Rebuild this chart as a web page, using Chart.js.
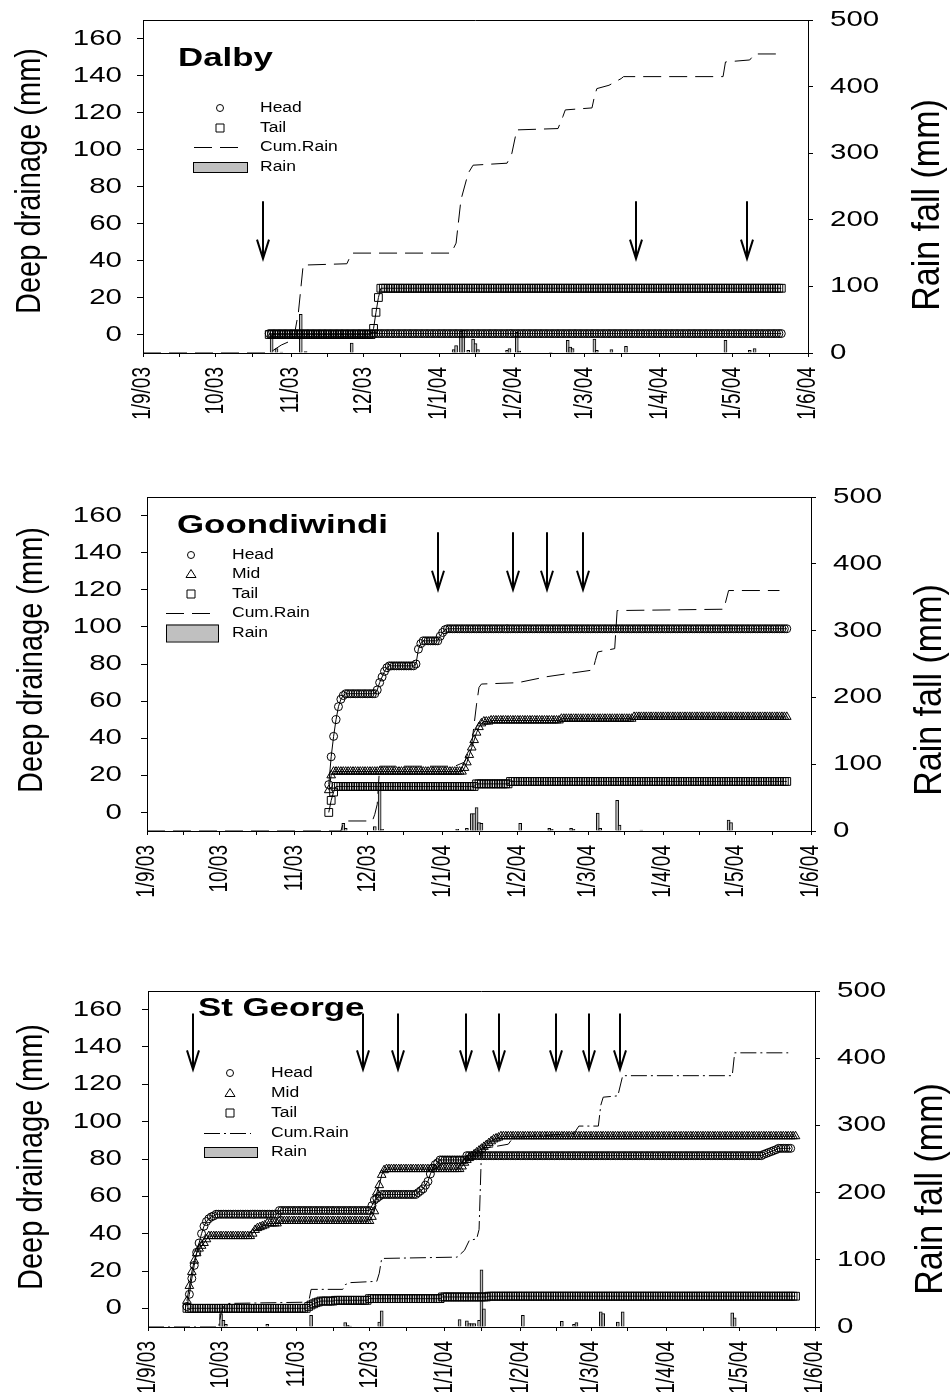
<!DOCTYPE html>
<html>
<head>
<meta charset="utf-8">
<title>Deep drainage and rain fall</title>
<script src="https://cdn.jsdelivr.net/npm/chart.js@4.4.1/dist/chart.umd.min.js"></script>
<style>
    body { margin: 0; background: #ffffff; }
    #page { position: relative; width: 951px; height: 1392px; }
    canvas { position: absolute; left: 0; }
</style>
</head>
<body>
<div id="page">
    <canvas id="dalbyChart" width="951" height="464" style="top:0px"></canvas>
    <canvas id="goondiChart" width="951" height="464" style="top:464px"></canvas>
    <canvas id="stgChart" width="951" height="464" style="top:928px"></canvas>
</div>
<script>
//Deep drainage (left axis) with daily and cumulative rain (right axis) at three sites
//x values are days counted from 1 Sep 2003

//Axis ticks shared by all three panels
var monthDays = [0, 30, 61, 91, 122, 153, 182, 213, 243, 274];
var monthLabels = ["1/9/03", "10/03", "11/03", "12/03", "1/1/04", "1/2/04", "1/3/04", "1/4/04", "1/5/04", "1/6/04"];
var midMonthDays = [15, 45, 76, 106, 137, 168, 197, 228, 258];
var drainageTicks = [0, 20, 40, 60, 80, 100, 120, 140, 160];
var rainTicks = [0, 100, 200, 300, 400, 500];

//---- Dalby (daily values from day 52) ----
var dalbyStart = 52;
var dalbyHead = [
    0.5, 0.5, 0.5, 0.5, 0.5, 0.5, 0.5, 0.5, 0.5, 0.5,
    0.5, 0.5, 0.5, 0.5, 0.5, 0.5, 0.5, 0.5, 0.5, 0.5,
    0.5, 0.5, 0.5, 0.5, 0.5, 0.5, 0.5, 0.5, 0.5, 0.5,
    0.5, 0.5, 0.5, 0.5, 0.5, 0.5, 0.5, 0.5, 0.5, 0.5,
    0.5, 0.5, 0.5, 0.5, 0.5, 0.5, 0.5, 0.5, 0.5, 0.5,
    0.5, 0.5, 0.5, 0.5, 0.5, 0.5, 0.5, 0.5, 0.5, 0.5,
    0.5, 0.5, 0.5, 0.5, 0.5, 0.5, 0.5, 0.5, 0.5, 0.5,
    0.5, 0.5, 0.5, 0.5, 0.5, 0.5, 0.5, 0.5, 0.5, 0.5,
    0.5, 0.5, 0.5, 0.5, 0.5, 0.5, 0.5, 0.5, 0.5, 0.5,
    0.5, 0.5, 0.5, 0.5, 0.5, 0.5, 0.5, 0.5, 0.5, 0.5,
    0.5, 0.5, 0.5, 0.5, 0.5, 0.5, 0.5, 0.5, 0.5, 0.5,
    0.5, 0.5, 0.5, 0.5, 0.5, 0.5, 0.5, 0.5, 0.5, 0.5,
    0.5, 0.5, 0.5, 0.5, 0.5, 0.5, 0.5, 0.5, 0.5, 0.5,
    0.5, 0.5, 0.5, 0.5, 0.5, 0.5, 0.5, 0.5, 0.5, 0.5,
    0.5, 0.5, 0.5, 0.5, 0.5, 0.5, 0.5, 0.5, 0.5, 0.5,
    0.5, 0.5, 0.5, 0.5, 0.5, 0.5, 0.5, 0.5, 0.5, 0.5,
    0.5, 0.5, 0.5, 0.5, 0.5, 0.5, 0.5, 0.5, 0.5, 0.5,
    0.5, 0.5, 0.5, 0.5, 0.5, 0.5, 0.5, 0.5, 0.5, 0.5,
    0.5, 0.5, 0.5, 0.5, 0.5, 0.5, 0.5, 0.5, 0.5, 0.5,
    0.5, 0.5, 0.5, 0.5, 0.5, 0.5, 0.5, 0.5, 0.5, 0.5,
    0.5, 0.5, 0.5, 0.5, 0.5, 0.5, 0.5, 0.5, 0.5, 0.5,
    0.5, 0.5
];
var dalbyTail = [
    0, 0, 0, 0, 0, 0, 0, 0, 0, 0,
    0, 0, 0, 0, 0, 0, 0, 0, 0, 0,
    0, 0, 0, 0, 0, 0, 0, 0, 0, 0,
    0, 0, 0, 0, 0, 0, 0, 0, 0, 0,
    0, 0, 0, 3.3, 12, 20, 25, 25, 25, 25,
    25, 25, 25, 25, 25, 25, 25, 25, 25, 25,
    25, 25, 25, 25, 25, 25, 25, 25, 25, 25,
    25, 25, 25, 25, 25, 25, 25, 25, 25, 25,
    25, 25, 25, 25, 25, 25, 25, 25, 25, 25,
    25, 25, 25, 25, 25, 25, 25, 25, 25, 25,
    25, 25, 25, 25, 25, 25, 25, 25, 25, 25,
    25, 25, 25, 25, 25, 25, 25, 25, 25, 25,
    25, 25, 25, 25, 25, 25, 25, 25, 25, 25,
    25, 25, 25, 25, 25, 25, 25, 25, 25, 25,
    25, 25, 25, 25, 25, 25, 25, 25, 25, 25,
    25, 25, 25, 25, 25, 25, 25, 25, 25, 25,
    25, 25, 25, 25, 25, 25, 25, 25, 25, 25,
    25, 25, 25, 25, 25, 25, 25, 25, 25, 25,
    25, 25, 25, 25, 25, 25, 25, 25, 25, 25,
    25, 25, 25, 25, 25, 25, 25, 25, 25, 25,
    25, 25, 25, 25, 25, 25, 25, 25, 25, 25,
    25, 25
];
var dalbyRainDays = [53, 55, 57, 65, 67, 86, 128, 129, 131, 132, 134, 136, 137, 138, 150, 151, 154, 155, 168, 175, 176, 177, 186, 187, 193, 199, 240, 250, 252];
var dalbyRain = [27, 6.5, 1.5, 58, 2, 15, 5, 11, 33, 34, 4, 21, 14, 5, 4, 6.5, 31, 3, 1, 19, 9, 6.5, 21, 4, 5, 10, 19, 4, 6.5];
var dalbyCumDays = [0, 52, 57, 62, 64, 66, 84, 86, 127, 129, 131, 134, 136, 150, 152, 154, 171, 173, 174, 185, 186, 187, 192, 197, 198, 239, 240, 250, 252, 262];
var dalbyCum = [0, 0, 12, 20, 60, 132, 134, 150, 150, 165, 230, 270, 282, 285, 300, 335, 337, 355, 365, 368, 385, 397, 402, 412, 415, 415, 437, 440, 449, 449];
var dalbyArrowDays = [49.5, 203, 249];
var dalbyArrowSpan = [72, 41];

//---- Goondiwindi (daily values from day 75) ----
var goondiStart = 75;
var goondiHead = [
    15, 30, 41, 50, 57, 61, 63, 64, 64, 64,
    64, 64, 64, 64, 64, 64, 64, 64, 64, 64,
    66, 70, 73, 76, 78, 79, 79, 79, 79, 79,
    79, 79, 79, 79, 79, 79, 80, 88, 91, 92.5,
    92.5, 92.5, 92.5, 92.5, 92.5, 92.5, 95, 97, 98.5, 99,
    99, 99, 99, 99, 99, 99, 99, 99, 99, 99,
    99, 99, 99, 99, 99, 99, 99, 99, 99, 99,
    99, 99, 99, 99, 99, 99, 99, 99, 99, 99,
    99, 99, 99, 99, 99, 99, 99, 99, 99, 99,
    99, 99, 99, 99, 99, 99, 99, 99, 99, 99,
    99, 99, 99, 99, 99, 99, 99, 99, 99, 99,
    99, 99, 99, 99, 99, 99, 99, 99, 99, 99,
    99, 99, 99, 99, 99, 99, 99, 99, 99, 99,
    99, 99, 99, 99, 99, 99, 99, 99, 99, 99,
    99, 99, 99, 99, 99, 99, 99, 99, 99, 99,
    99, 99, 99, 99, 99, 99, 99, 99, 99, 99,
    99, 99, 99, 99, 99, 99, 99, 99, 99, 99,
    99, 99, 99, 99, 99, 99, 99, 99, 99, 99,
    99, 99, 99, 99, 99, 99, 99, 99, 99, 99
];
var goondiMid = [
    12, 20, 22, 22, 22, 22, 22, 22, 22, 22,
    22, 22, 22, 22, 22, 22, 22, 22, 22, 22,
    22, 22, 22, 22, 22, 22, 22, 22, 22, 22,
    22, 22, 22, 22, 22, 22, 22, 22, 22, 22,
    22, 22, 22, 22, 22, 22, 22, 22, 22, 22,
    22, 22, 22, 22, 22, 22, 24, 27, 31, 35,
    39, 43, 46, 48, 49, 49, 49, 49.6, 49.6, 49.6,
    49.6, 49.6, 49.6, 49.6, 49.6, 49.6, 49.6, 49.6, 49.6, 49.6,
    49.6, 49.6, 49.6, 49.6, 49.6, 49.6, 49.6, 49.6, 49.6, 49.6,
    49.6, 49.6, 49.6, 49.6, 49.6, 49.6, 50.5, 50.5, 50.5, 50.5,
    50.5, 50.5, 50.5, 50.5, 50.5, 50.5, 50.5, 50.5, 50.5, 50.5,
    50.5, 50.5, 50.5, 50.5, 50.5, 50.5, 50.5, 50.5, 50.5, 50.5,
    50.5, 50.5, 50.5, 50.5, 50.5, 50.5, 51.5, 51.5, 51.5, 51.5,
    51.5, 51.5, 51.5, 51.5, 51.5, 51.5, 51.5, 51.5, 51.5, 51.5,
    51.5, 51.5, 51.5, 51.5, 51.5, 51.5, 51.5, 51.5, 51.5, 51.5,
    51.5, 51.5, 51.5, 51.5, 51.5, 51.5, 51.5, 51.5, 51.5, 51.5,
    51.5, 51.5, 51.5, 51.5, 51.5, 51.5, 51.5, 51.5, 51.5, 51.5,
    51.5, 51.5, 51.5, 51.5, 51.5, 51.5, 51.5, 51.5, 51.5, 51.5,
    51.5, 51.5, 51.5, 51.5, 51.5, 51.5, 51.5, 51.5, 51.5, 51.5
];
var goondiTail = [
    0, 6.5, 11, 14, 14, 14, 14, 14, 14, 14,
    14, 14, 14, 14, 14, 14, 14, 14, 14, 14,
    14, 14, 14, 14, 14, 14, 14, 14, 14, 14,
    14, 14, 14, 14, 14, 14, 14, 14, 14, 14,
    14, 14, 14, 14, 14, 14, 14, 14, 14, 14,
    14, 14, 14, 14, 14, 14, 14, 14, 14, 14,
    14, 15.4, 15.4, 15.4, 15.4, 15.4, 15.4, 15.4, 15.4, 15.4,
    15.4, 15.4, 15.4, 15.4, 15.4, 16.7, 16.7, 16.7, 16.7, 16.7,
    16.7, 16.7, 16.7, 16.7, 16.7, 16.7, 16.7, 16.7, 16.7, 16.7,
    16.7, 16.7, 16.7, 16.7, 16.7, 16.7, 16.7, 16.7, 16.7, 16.7,
    16.7, 16.7, 16.7, 16.7, 16.7, 16.7, 16.7, 16.7, 16.7, 16.7,
    16.7, 16.7, 16.7, 16.7, 16.7, 16.7, 16.7, 16.7, 16.7, 16.7,
    16.7, 16.7, 16.7, 16.7, 16.7, 16.7, 16.7, 16.7, 16.7, 16.7,
    16.7, 16.7, 16.7, 16.7, 16.7, 16.7, 16.7, 16.7, 16.7, 16.7,
    16.7, 16.7, 16.7, 16.7, 16.7, 16.7, 16.7, 16.7, 16.7, 16.7,
    16.7, 16.7, 16.7, 16.7, 16.7, 16.7, 16.7, 16.7, 16.7, 16.7,
    16.7, 16.7, 16.7, 16.7, 16.7, 16.7, 16.7, 16.7, 16.7, 16.7,
    16.7, 16.7, 16.7, 16.7, 16.7, 16.7, 16.7, 16.7, 16.7, 16.7,
    16.7, 16.7, 16.7, 16.7, 16.7, 16.7, 16.7, 16.7, 16.7, 16.7
];
var goondiRainDays = [81, 82, 94, 96, 97, 128, 132, 134, 135, 136, 137, 138, 154, 166, 167, 175, 176, 186, 187, 194, 195, 204, 240, 241];
var goondiRain = [11.5, 4, 6.5, 72, 2.5, 2.5, 4, 26, 26, 35, 12.5, 11.5, 11.5, 4, 2.5, 4, 2.5, 27, 4, 46, 9, 1.5, 16.5, 12.5];
var goondiCumDays = [0, 80, 81, 82, 93, 94, 95, 96, 127, 131, 134, 136, 137, 138, 153, 165, 184, 185, 186, 193, 194, 238, 240, 261];
var goondiCum = [0, 0, 12, 15, 15, 25, 40, 97, 97, 103, 130, 190, 215, 220, 222, 231, 241, 255, 268, 273, 330, 332, 360, 360];
var goondiArrowDays = [120, 151, 165, 180];
var goondiArrowSpan = [151, 120];

//---- St George (daily values from day 16) ----
var stgStart = 16;
var stgHead = [
    1, 7.5, 16, 23, 30, 35, 40, 44, 46.5, 48,
    49, 49.5, 50.4, 50.4, 50.4, 50.4, 50.4, 50.4, 50.4, 50.4,
    50.4, 50.4, 50.4, 50.4, 50.4, 50.4, 50.4, 50.4, 50.4, 50.4,
    50.4, 50.4, 50.4, 50.4, 50.4, 50.4, 50.4, 50.4, 52.4, 52.4,
    52.4, 52.4, 52.4, 52.4, 52.4, 52.4, 52.4, 52.4, 52.4, 52.4,
    52.4, 52.4, 52.4, 52.4, 52.4, 52.4, 52.4, 52.4, 52.4, 52.4,
    52.4, 52.4, 52.4, 52.4, 52.4, 52.4, 52.4, 52.4, 52.4, 52.4,
    52.4, 52.4, 52.4, 52.4, 52.4, 52.4, 55, 58, 59, 60,
    61, 61, 61, 61, 61, 61, 61, 61, 61, 61,
    61, 61, 61, 61, 61, 62, 63, 64, 66, 68,
    72, 75, 77, 78, 79.5, 79.5, 79.5, 79.5, 79.5, 79.5,
    79.5, 79.5, 79.5, 79.5, 79.5, 81.8, 81.8, 81.8, 81.8, 81.8,
    81.8, 81.8, 81.8, 81.8, 81.8, 81.8, 81.8, 81.8, 81.8, 81.8,
    81.8, 81.8, 81.8, 81.8, 81.8, 81.8, 81.8, 81.8, 81.8, 81.8,
    81.8, 81.8, 81.8, 81.8, 81.8, 81.8, 81.8, 81.8, 81.8, 81.8,
    81.8, 81.8, 81.8, 81.8, 81.8, 81.8, 81.8, 81.8, 81.8, 81.8,
    81.8, 81.8, 81.8, 81.8, 81.8, 81.8, 81.8, 81.8, 81.8, 81.8,
    81.8, 81.8, 81.8, 81.8, 81.8, 81.8, 81.8, 81.8, 81.8, 81.8,
    81.8, 81.8, 81.8, 81.8, 81.8, 81.8, 81.8, 81.8, 81.8, 81.8,
    81.8, 81.8, 81.8, 81.8, 81.8, 81.8, 81.8, 81.8, 81.8, 81.8,
    81.8, 81.8, 81.8, 81.8, 81.8, 81.8, 81.8, 81.8, 81.8, 81.8,
    81.8, 81.8, 81.8, 81.8, 81.8, 81.8, 81.8, 81.8, 81.8, 81.8,
    81.8, 81.8, 81.8, 81.8, 81.8, 81.8, 81.8, 81.8, 81.8, 81.8,
    81.8, 81.8, 81.8, 81.8, 81.8, 81.8, 81.8, 82.5, 83, 83.5,
    84, 84.5, 85, 85.7, 85.7, 85.7, 85.7, 85.7, 85.7
];
var stgMid = [
    4, 12, 19.5, 25.5, 29.5, 32, 33.5, 35, 37, 38.7,
    38.7, 38.7, 38.7, 38.7, 38.7, 38.7, 38.7, 38.7, 38.7, 38.7,
    38.7, 38.7, 38.7, 38.7, 38.7, 38.7, 38.7, 40, 42, 43,
    43.5, 44, 44.5, 45.5, 45.5, 45.5, 45.5, 45.5, 46.8, 46.8,
    46.8, 46.8, 46.8, 46.8, 46.8, 46.8, 46.8, 46.8, 46.8, 46.8,
    46.8, 46.8, 46.8, 46.8, 46.8, 46.8, 46.8, 46.8, 46.8, 46.8,
    46.8, 46.8, 46.8, 46.8, 46.8, 46.8, 46.8, 46.8, 46.8, 46.8,
    46.8, 46.8, 46.8, 46.8, 46.8, 46.8, 49, 52, 62, 66,
    71.5, 74, 74.6, 74.6, 74.6, 74.6, 74.6, 74.6, 74.6, 74.6,
    74.6, 74.6, 74.6, 74.6, 74.6, 74.6, 74.6, 74.6, 74.6, 74.6,
    74.6, 74.6, 74.6, 74.6, 74.6, 74.6, 74.6, 74.6, 74.6, 74.6,
    74.6, 74.6, 74.6, 76, 78, 79.5, 80.5, 81.4, 82.5, 83.5,
    84.5, 85.5, 86.5, 87.5, 88.5, 89.5, 90.5, 91, 91.5, 92.2,
    92.2, 92.2, 92.2, 92.2, 92.2, 92.2, 92.2, 92.2, 92.2, 92.2,
    92.2, 92.2, 92.2, 92.2, 92.2, 92.2, 92.2, 92.2, 92.2, 92.2,
    92.2, 92.2, 92.2, 92.2, 92.2, 92.2, 92.2, 92.2, 92.2, 92.2,
    92.2, 92.2, 92.2, 92.2, 92.2, 92.2, 92.2, 92.2, 92.2, 92.2,
    92.2, 92.2, 92.2, 92.2, 92.2, 92.2, 92.2, 92.2, 92.2, 92.2,
    92.2, 92.2, 92.2, 92.2, 92.2, 92.2, 92.2, 92.2, 92.2, 92.2,
    92.2, 92.2, 92.2, 92.2, 92.2, 92.2, 92.2, 92.2, 92.2, 92.2,
    92.2, 92.2, 92.2, 92.2, 92.2, 92.2, 92.2, 92.2, 92.2, 92.2,
    92.2, 92.2, 92.2, 92.2, 92.2, 92.2, 92.2, 92.2, 92.2, 92.2,
    92.2, 92.2, 92.2, 92.2, 92.2, 92.2, 92.2, 92.2, 92.2, 92.2,
    92.2, 92.2, 92.2, 92.2, 92.2, 92.2, 92.2, 92.2, 92.2, 92.2,
    92.2, 92.2, 92.2, 92.2, 92.2, 92.2, 92.2, 92.2, 92.2, 92.2,
    92.2
];
var stgTail = [
    0, 0, 0, 0, 0, 0, 0, 0, 0, 0,
    0, 0, 0, 0, 0, 0, 0, 0, 0, 0,
    0, 0, 0, 0, 0, 0, 0, 0, 0, 0,
    0, 0, 0, 0, 0, 0, 0, 0, 0, 0,
    0, 0, 0, 0, 0, 0, 0, 0, 0, 0,
    1, 1.8, 2.4, 3, 3.4, 3.9, 3.9, 3.9, 3.9, 3.9,
    3.9, 4.3, 4.3, 4.3, 4.3, 4.3, 4.3, 4.3, 4.3, 4.3,
    4.3, 4.3, 4.3, 4.3, 4.3, 5.2, 5.2, 5.2, 5.2, 5.2,
    5.2, 5.2, 5.2, 5.2, 5.2, 5.2, 5.2, 5.2, 5.2, 5.2,
    5.2, 5.2, 5.2, 5.2, 5.2, 5.2, 5.2, 5.2, 5.2, 5.2,
    5.2, 5.2, 5.2, 5.2, 5.2, 6.1, 6.1, 6.1, 6.1, 6.1,
    6.1, 6.1, 6.1, 6.1, 6.1, 6.1, 6.1, 6.1, 6.1, 6.1,
    6.1, 6.1, 6.1, 6.1, 6.5, 6.5, 6.5, 6.5, 6.5, 6.5,
    6.5, 6.5, 6.5, 6.5, 6.5, 6.5, 6.5, 6.5, 6.5, 6.5,
    6.5, 6.5, 6.5, 6.5, 6.5, 6.5, 6.5, 6.5, 6.5, 6.5,
    6.5, 6.5, 6.5, 6.5, 6.5, 6.5, 6.5, 6.5, 6.5, 6.5,
    6.5, 6.5, 6.5, 6.5, 6.5, 6.5, 6.5, 6.5, 6.5, 6.5,
    6.5, 6.5, 6.5, 6.5, 6.5, 6.5, 6.5, 6.5, 6.5, 6.5,
    6.5, 6.5, 6.5, 6.5, 6.5, 6.5, 6.5, 6.5, 6.5, 6.5,
    6.5, 6.5, 6.5, 6.5, 6.5, 6.5, 6.5, 6.5, 6.5, 6.5,
    6.5, 6.5, 6.5, 6.5, 6.5, 6.5, 6.5, 6.5, 6.5, 6.5,
    6.5, 6.5, 6.5, 6.5, 6.5, 6.5, 6.5, 6.5, 6.5, 6.5,
    6.5, 6.5, 6.5, 6.5, 6.5, 6.5, 6.5, 6.5, 6.5, 6.5,
    6.5, 6.5, 6.5, 6.5, 6.5, 6.5, 6.5, 6.5, 6.5, 6.5,
    6.5, 6.5, 6.5, 6.5, 6.5, 6.5, 6.5, 6.5, 6.5, 6.5,
    6.5
];
var stgRainDays = [30, 31, 32, 49, 67, 81, 82, 83, 95, 96, 128, 131, 132, 133, 134, 136, 137, 138, 154, 170, 175, 176, 186, 187, 193, 195, 240, 241];
var stgRain = [20, 10, 4, 4, 17.5, 6.5, 2.5, 1.5, 7.5, 24, 11, 9, 5, 5, 5, 10, 85, 27, 17.5, 8.5, 4, 6.5, 22.5, 20, 7.5, 22.5, 21, 13.5];
var stgCumDays = [0, 29, 30, 31, 32, 66, 67, 80, 81, 83, 94, 95, 96, 127, 130, 132, 135, 136, 137, 148, 150, 175, 177, 185, 186, 187, 193, 195, 240, 241, 263];
var stgCum = [0, 0, 20, 30, 35, 37, 56, 56, 63, 66, 68, 80, 102, 104, 114, 129, 131, 145, 265, 272, 282, 288, 299, 299, 330, 342, 344, 374, 374, 408, 408];
var stgArrowDays = [18.5, 88.5, 102.5, 130.5, 144, 167.5, 181, 194];
var stgArrowSpan = [158, 128];

//---- drawing ----
var pageWidth = 951;
var fontFamily = '"Liberation Sans", Arial, Helvetica, sans-serif';
var rainFill = "#c0c0c0";
var panels = {};

//Turn a daily series into x/y points
function toPoints(start, values) {
    return values.map(function (v, i) { return { x: start + i, y: v }; });
}

//Pair a list of days with a list of values
function zipPoints(days, values) {
    return days.map(function (d, i) { return { x: d, y: values[i] }; });
}

function markerSet(label, data, style, radius) {
    return {
        type: "line", label: label, data: data, yAxisID: "y",
        borderColor: "#000", borderWidth: 1, tension: 0, fill: false,
        pointStyle: style, pointRadius: radius, pointBorderWidth: 1,
        pointBorderColor: "#000", pointBackgroundColor: "rgba(0,0,0,0)",
        order: 0
    };
}

//The scanned figure is wider than tall, so text is drawn a bit stretched
function drawText(ctx, text, x, y, font, opt) {
    ctx.save();
    ctx.translate(x, y);
    if (opt.rotate) ctx.rotate(opt.rotate);
    ctx.scale(opt.sx || 1, opt.sy || 1);
    ctx.font = font;
    ctx.fillStyle = "#000";
    ctx.textAlign = opt.align || "left";
    ctx.textBaseline = opt.baseline || "middle";
    ctx.fillText(text, 0, 0);
    ctx.restore();
}

function drawLegend(ctx, p) {
    var lg = p.legend;
    ctx.save();
    ctx.strokeStyle = "#000";
    ctx.lineWidth = 1;
    lg.items.forEach(function (item, i) {
        var y = lg.rows[i];
        var sx = lg.symX;
        ctx.setLineDash([]);
        ctx.beginPath();
        if (item[0] === "circle") {
            ctx.arc(sx, y, 3.5, 0, Math.PI * 2);
            ctx.stroke();
        } else if (item[0] === "triangle") {
            ctx.moveTo(sx, y - 4.5);
            ctx.lineTo(sx + 5, y + 3.5);
            ctx.lineTo(sx - 5, y + 3.5);
            ctx.closePath();
            ctx.stroke();
        } else if (item[0] === "rect") {
            ctx.rect(sx - 4, y - 4, 8, 8);
            ctx.stroke();
        } else if (item[0] === "dash") {
            ctx.setLineDash(p.dash);
            ctx.moveTo(lg.dashX[0], y + 0.5);
            ctx.lineTo(lg.dashX[1], y + 0.5);
            ctx.stroke();
        } else if (item[0] === "bar") {
            ctx.fillStyle = rainFill;
            ctx.fillRect(lg.barX[0], y - lg.barH / 2, lg.barX[1] - lg.barX[0], lg.barH);
            ctx.strokeRect(lg.barX[0] + 0.5, y - lg.barH / 2 + 0.5, lg.barX[1] - lg.barX[0], lg.barH);
        }
        drawText(ctx, item[1], lg.labelX, y, "14px " + fontFamily, { sx: 1.25 });
    });
    ctx.restore();
}

//Frame top, arrows, tick labels, titles and legend
var panelDecor = {
    id: "panelDecor",
    afterDraw: function (chart) {
        var p = panels[chart.canvas.id];
        if (!p) return;
        var ctx = chart.ctx, area = chart.chartArea;
        var xs = chart.scales.x, ys = chart.scales.y, rs = chart.scales.y1;

        ctx.save();
        ctx.strokeStyle = "#000";
        ctx.lineWidth = 1;
        ctx.beginPath();
        ctx.moveTo(area.left, Math.round(area.top) + 0.5);
        ctx.lineTo(area.right, Math.round(area.top) + 0.5);
        ctx.stroke();

        //irrigation arrows
        ctx.lineWidth = 2;
        p.arrowDays.forEach(function (d) {
            var ax = Math.round(xs.getPixelForValue(d));
            var top = ys.getPixelForValue(p.arrowSpan[0]);
            var tip = ys.getPixelForValue(p.arrowSpan[1]);
            ctx.beginPath();
            ctx.moveTo(ax, top);
            ctx.lineTo(ax, tip);
            ctx.moveTo(ax - 6, tip - 19);
            ctx.lineTo(ax, tip);
            ctx.lineTo(ax + 6, tip - 19);
            ctx.stroke();
        });
        ctx.restore();

        //tick labels
        ys.ticks.forEach(function (t) {
            drawText(ctx, String(t.value), 122, ys.getPixelForValue(t.value), "22px " + fontFamily, { sx: 1.34, align: "right" });
        });
        rs.ticks.forEach(function (t) {
            drawText(ctx, String(t.value), area.right + 22, rs.getPixelForValue(t.value), "22px " + fontFamily, { sx: 1.34, align: "left" });
        });
        monthDays.forEach(function (d, i) {
            drawText(ctx, monthLabels[i], xs.getPixelForValue(d), area.bottom + 14, "19px " + fontFamily,
                { rotate: -Math.PI / 2, sy: 1.35, align: "right" });
        });

        //axis titles
        drawText(ctx, "Deep drainage (mm)", p.leftTitle[0], p.leftTitle[1], "29px " + fontFamily,
            { rotate: -Math.PI / 2, sy: 1.2, align: "center" });
        drawText(ctx, "Rain fall (mm)", p.rightTitle[0], p.rightTitle[1], "34px " + fontFamily,
            { rotate: -Math.PI / 2, sy: 1.12, align: "center" });

        //site name
        drawText(ctx, p.title, p.titlePos[0], p.titlePos[1], "bold 26px " + fontFamily, { sx: 1.34, baseline: "alphabetic" });

        drawLegend(ctx, p);
    }
};

function tickObjects(values) {
    return values.map(function (v) { return { value: v }; });
}

function makePanel(canvasId, p) {
    panels[canvasId] = p;
    var box = p.box;
    var datasets = p.series.map(function (s) {
        return markerSet(s.label, toPoints(p.start, s.values), s.style, s.radius);
    });
    datasets.push({
        type: "line", label: "Cum.Rain", data: zipPoints(p.cumDays, p.cum), yAxisID: "y1",
        borderColor: "#000", borderWidth: 1, borderDash: p.dash, pointRadius: 0, tension: 0, fill: false, order: 1
    });
    datasets.push({
        type: "bar", label: "Rain", data: zipPoints(p.rainDays, p.rain), yAxisID: "y1",
        backgroundColor: rainFill, borderColor: "#000", borderWidth: 1, barThickness: 3, order: 2
    });

    var xTicks = monthDays.concat(midMonthDays).sort(function (a, b) { return a - b; });

    return new Chart(document.getElementById(canvasId), {
        type: "line",
        data: { datasets: datasets },
        options: {
            responsive: false,
            animation: false,
            events: [],
            layout: { autoPadding: false, padding: { top: box.top, left: 0, right: 0, bottom: 0 } },
            plugins: { legend: { display: false }, tooltip: { enabled: false } },
            scales: {
                x: {
                    type: "linear", min: 0, max: 274, offset: false,
                    afterBuildTicks: function (axis) { axis.ticks = tickObjects(xTicks); },
                    afterFit: function (axis) { axis.height = box.height - box.bottom; },
                    ticks: { display: false },
                    grid: { drawOnChartArea: false, drawTicks: true, tickLength: 4, color: "#000", offset: false },
                    border: { display: true, color: "#000", width: 1 }
                },
                y: {
                    type: "linear", position: "left", min: -10, max: 170,
                    afterBuildTicks: function (axis) { axis.ticks = tickObjects(drainageTicks); },
                    afterFit: function (axis) { axis.width = box.left; },
                    ticks: { display: false },
                    grid: { drawOnChartArea: false, drawTicks: true, tickLength: 6, color: "#000" },
                    border: { display: true, color: "#000", width: 1 }
                },
                y1: {
                    type: "linear", position: "right", min: 0, max: 500,
                    afterBuildTicks: function (axis) { axis.ticks = tickObjects(rainTicks); },
                    afterFit: function (axis) { axis.width = pageWidth - box.right; },
                    ticks: { display: false },
                    grid: { drawOnChartArea: false, drawTicks: true, tickLength: 5, color: "#000" },
                    border: { display: true, color: "#000", width: 1 }
                }
            }
        },
        plugins: [panelDecor]
    });
}

//Dalby
makePanel("dalbyChart", {
    start: dalbyStart,
    series: [
        { label: "Head", values: dalbyHead, style: "circle", radius: 4 },
        { label: "Tail", values: dalbyTail, style: "rect", radius: 5.5 }
    ],
    rainDays: dalbyRainDays, rain: dalbyRain,
    cumDays: dalbyCumDays, cum: dalbyCum,
    arrowDays: dalbyArrowDays, arrowSpan: dalbyArrowSpan,
    dash: [18, 8],
    box: { top: 20, bottom: 353, left: 143, right: 808, height: 464 },
    title: "Dalby", titlePos: [178, 66],
    leftTitle: [30, 181], rightTitle: [928, 205],
    legend: {
        symX: 220, labelX: 260, rows: [108, 128, 147, 167],
        dashX: [194, 240], barX: [193, 247], barH: 10,
        items: [["circle", "Head"], ["rect", "Tail"], ["dash", "Cum.Rain"], ["bar", "Rain"]]
    }
});

//Goondiwindi
makePanel("goondiChart", {
    start: goondiStart,
    series: [
        { label: "Head", values: goondiHead, style: "circle", radius: 4 },
        { label: "Mid", values: goondiMid, style: "triangle", radius: 5 },
        { label: "Tail", values: goondiTail, style: "rect", radius: 5.5 }
    ],
    rainDays: goondiRainDays, rain: goondiRain,
    cumDays: goondiCumDays, cum: goondiCum,
    arrowDays: goondiArrowDays, arrowSpan: goondiArrowSpan,
    dash: [18, 8],
    box: { top: 33, bottom: 367, left: 147, right: 811, height: 464 },
    title: "Goondiwindi", titlePos: [177, 69],
    leftTitle: [32, 196], rightTitle: [930, 226],
    legend: {
        symX: 191, labelX: 232, rows: [91, 110, 130, 149, 169],
        dashX: [166, 213], barX: [166, 218], barH: 17,
        items: [["circle", "Head"], ["triangle", "Mid"], ["rect", "Tail"], ["dash", "Cum.Rain"], ["bar", "Rain"]]
    }
});

//St George
makePanel("stgChart", {
    start: stgStart,
    series: [
        { label: "Head", values: stgHead, style: "circle", radius: 4 },
        { label: "Mid", values: stgMid, style: "triangle", radius: 5 },
        { label: "Tail", values: stgTail, style: "rect", radius: 5.5 }
    ],
    rainDays: stgRainDays, rain: stgRain,
    cumDays: stgCumDays, cum: stgCum,
    arrowDays: stgArrowDays, arrowSpan: stgArrowSpan,
    dash: [16, 4, 2, 4],
    box: { top: 63, bottom: 399, left: 148, right: 815, height: 464 },
    title: "St George", titlePos: [198, 88],
    leftTitle: [32, 229], rightTitle: [931, 261],
    legend: {
        symX: 230, labelX: 271, rows: [145, 165, 185, 205, 224],
        dashX: [204, 251], barX: [204, 257], barH: 10,
        items: [["circle", "Head"], ["triangle", "Mid"], ["rect", "Tail"], ["dash", "Cum.Rain"], ["bar", "Rain"]]
    }
});
</script>
</body>
</html>
